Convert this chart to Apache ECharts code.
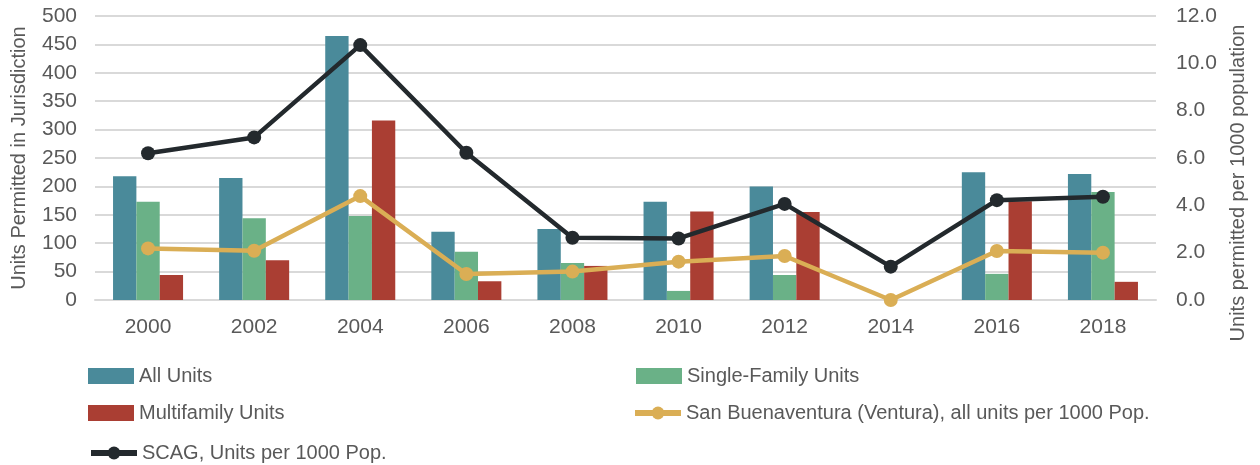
<!DOCTYPE html>
<html>
<head>
<meta charset="utf-8">
<script src="https://cdn.jsdelivr.net/npm/echarts@6/dist/echarts.min.js"></script>
<style>
  html, body { margin: 0; padding: 0; background: #fff; }
  #chart { width: 1260px; height: 465px; }
</style>
</head>
<body>
<div id="chart"></div>
<script>
const years = ['2000', '2002', '2004', '2006', '2008', '2010', '2012', '2014', '2016', '2018']
const allUnits = [218, 215, 465, 120, 125, 173, 200, 0, 225, 222]
const singleFamily = [173, 144, 148, 85, 65, 16, 44, 0, 46, 190]
const multifamily = [44, 70, 316, 33, 60, 156, 155, 0, 174, 32]
const sanBuenaventura = [2.18, 2.08, 4.39, 1.1, 1.2, 1.62, 1.86, 0.0, 2.07, 2.0]
const scag = [6.2, 6.87, 10.77, 6.22, 2.63, 2.6, 4.06, 1.41, 4.22, 4.36]

const names = {
  all: 'All Units',
  sf: 'Single-Family Units',
  mf: 'Multifamily Units',
  sb: 'San Buenaventura (Ventura), all units per 1000 Pop.',
  scag: 'SCAG, Units per 1000 Pop.'
}

const textColor = '#595959'
const legendText = { color: textColor, fontSize: 20, fontFamily: 'Liberation Sans, sans-serif' }

function legendAt(name, left, top, icon) {
  const cfg = {
    data: [name],
    left: left,
    top: top,
    itemWidth: 46,
    itemHeight: 16,
    itemGap: 4,
    padding: 0,
    textStyle: legendText
  }
  if (icon) cfg.icon = icon
  else cfg.lineStyle = { width: 6 }
  return cfg
}

const chart = echarts.init(document.getElementById('chart'), null, { renderer: 'canvas' })

chart.setOption({
  animation: false,
  backgroundColor: '#fff',
  textStyle: { fontFamily: 'Liberation Sans, sans-serif' },
  legend: [
    legendAt(names.all, 88, 366, 'rect'),
    legendAt(names.sf, 636, 366, 'rect'),
    legendAt(names.mf, 88, 403, 'rect'),
    legendAt(names.sb, 632, 403),
    legendAt(names.scag, 88, 443)
  ],
  grid: { left: 95, right: 104, top: 16, bottom: 165, containLabel: false, outerBoundsMode: 'none' },
  xAxis: {
    type: 'category',
    data: years,
    axisLine: { show: true, lineStyle: { color: '#d9d9d9', width: 2 } },
    axisTick: { show: false },
    axisLabel: { color: textColor, fontSize: 21, margin: 17 }
  },
  yAxis: [
    {
      type: 'value',
      min: 0,
      max: 500,
      interval: 50,
      name: 'Units Permitted in Jurisdiction',
      nameLocation: 'middle',
      nameGap: 66,
      nameTextStyle: { color: textColor, fontSize: 20 },
      axisLine: { show: false },
      axisTick: { show: false },
      axisLabel: { color: textColor, fontSize: 21, margin: 18 },
      splitLine: { lineStyle: { color: '#d9d9d9', width: 2 } }
    },
    {
      type: 'value',
      min: 0,
      max: 12,
      interval: 2,
      name: 'Units permitted per 1000 population',
      nameLocation: 'middle',
      nameGap: 72,
      nameTextStyle: { color: textColor, fontSize: 20, padding: [0, 50, 0, 0] },
      axisLine: { show: false },
      axisTick: { show: false },
      axisLabel: { color: textColor, fontSize: 21, margin: 20, formatter: (v) => v.toFixed(1) },
      splitLine: { show: false }
    }
  ],
  series: [
    {
      name: names.all,
      type: 'bar',
      data: allUnits,
      barGap: '0%',
      barCategoryGap: '34%',
      itemStyle: { color: '#4a8a9a' }
    },
    {
      name: names.sf,
      type: 'bar',
      data: singleFamily,
      itemStyle: { color: '#6ab187' }
    },
    {
      name: names.mf,
      type: 'bar',
      data: multifamily,
      itemStyle: { color: '#aa3e33' }
    },
    {
      name: names.sb,
      type: 'line',
      yAxisIndex: 1,
      data: sanBuenaventura,
      symbol: 'circle',
      symbolSize: 14,
      lineStyle: { color: '#daae55', width: 4.5 },
      itemStyle: { color: '#daae55' }
    },
    {
      name: names.scag,
      type: 'line',
      yAxisIndex: 1,
      data: scag,
      symbol: 'circle',
      symbolSize: 14,
      lineStyle: { color: '#23292d', width: 4.5 },
      itemStyle: { color: '#23292d' }
    }
  ]
})
</script>
</body>
</html>
